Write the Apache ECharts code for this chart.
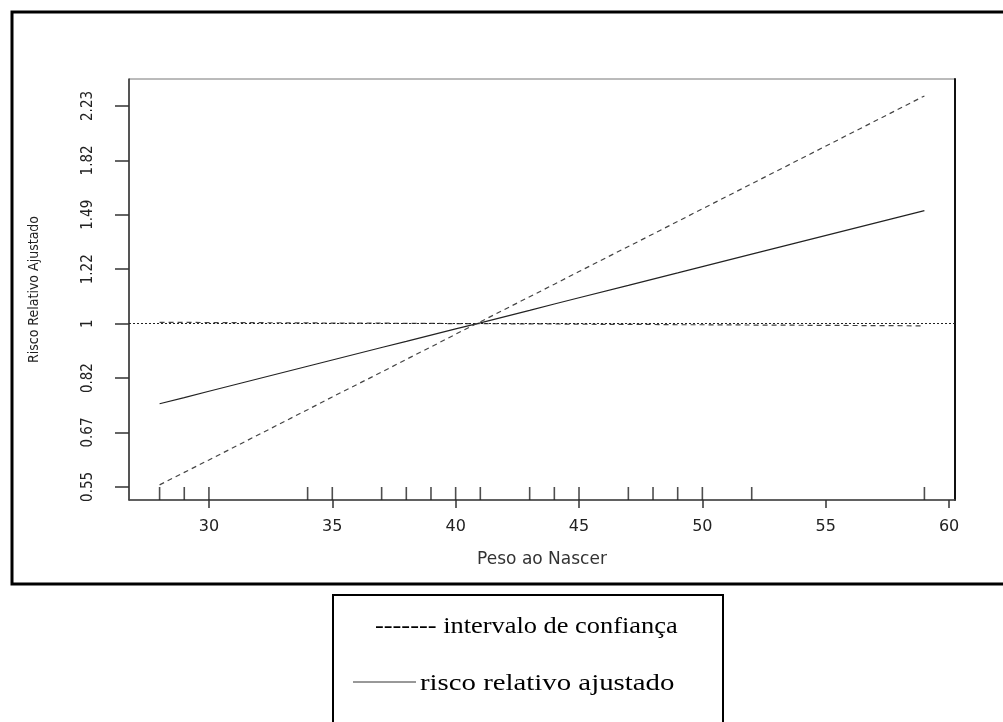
<!DOCTYPE html>
<html>
<head>
<meta charset="utf-8">
<title>Risco Relativo Ajustado</title>
<script src="https://cdn.jsdelivr.net/npm/echarts@6/dist/echarts.min.js"></script>
<style>
  html, body { margin: 0; padding: 0; background: #fff; }
  #chart { width: 1003px; height: 722px; }
</style>
</head>
<body>
<div id="chart"></div>
<script>
// eixo x: peso ao nascer (valores observados, tambem usados no rug)
var pesoX = [28, 29, 30, 34, 35, 37, 38, 39, 40, 41, 43, 44, 45, 47, 48, 49, 50, 52, 59];
var rugX = [28, 29, 30, 34, 35, 37, 38, 39, 40, 41, 43, 44, 45, 47, 48, 49, 50, 52, 59];

// risco relativo ajustado (linha continua)
var riscoAjustado = [0.745, 0.762, 0.780, 0.855, 0.875, 0.916, 0.937, 0.959, 0.981, 1.003,
    1.050, 1.075, 1.100, 1.151, 1.178, 1.205, 1.233, 1.291, 1.515];

// intervalo de confianca (duas linhas tracejadas)
var icInclinado = [0.553, 0.579, 0.606, 0.729, 0.764, 0.837, 0.877, 0.918, 0.962, 1.007,
    1.104, 1.156, 1.211, 1.328, 1.390, 1.456, 1.525, 1.672, 2.309];
var icPlano = [1.005, 1.005, 1.004, 1.003, 1.002, 1.002, 1.001, 1.001, 1.000, 1.000,
    0.999, 0.999, 0.998, 0.997, 0.997, 0.996, 0.996, 0.995, 0.992];

// ticks
var xTicks = [30, 35, 40, 45, 50, 55, 60];
var yTickLabels = ['0.55', '0.67', '0.82', '1', '1.22', '1.49', '1.82', '2.23'];
var yTickLogs = [-0.6, -0.4, -0.2, 0, 0.2, 0.4, 0.6, 0.8];

var X_MIN = 26.76, X_MAX = 60.24;
var Y_MIN = -0.648, Y_MAX = 0.899;

var NARROW = '"Liberation Sans Narrow", "DejaVu Sans Condensed", "Liberation Sans", sans-serif';

function toLogPairs(vals) {
    return pesoX.map(function (x, i) { return [x, Math.log(vals[i])]; });
}

var chart = echarts.init(document.getElementById('chart'), null, { renderer: 'canvas' });

var option = {
    animation: false,
    backgroundColor: '#fff',
    grid: {
        left: 129, top: 79, right: 48, bottom: 222,
        show: true, borderColor: '#777', borderWidth: 1, backgroundColor: 'transparent'
    },
    xAxis: {
        type: 'value',
        min: X_MIN, max: X_MAX,
        name: 'Peso ao Nascer',
        nameLocation: 'middle',
        nameGap: 51,
        nameTextStyle: { fontFamily: 'DejaVu Sans', fontSize: 17, color: '#333' },
        axisLine: { show: true, onZero: false, lineStyle: { color: '#444', width: 1.5 } },
        axisTick: { show: true, inside: false, length: 8, customValues: xTicks, lineStyle: { color: '#333', width: 1.5 } },
        axisLabel: {
            customValues: xTicks, margin: 19,
            fontFamily: 'DejaVu Sans', fontSize: 16, color: '#222'
        },
        splitLine: { show: false }
    },
    yAxis: [{
        type: 'value',
        min: Y_MIN, max: Y_MAX,
        name: 'Risco Relativo Ajustado',
        nameLocation: 'middle',
        nameRotate: 90,
        nameGap: 88,
        nameTextStyle: { fontFamily: NARROW, fontSize: 14, color: '#222' },
        axisLine: { show: true, onZero: false, lineStyle: { color: '#333', width: 1.5 } },
        axisTick: { show: true, inside: false, length: 14, customValues: yTickLogs, lineStyle: { color: '#333', width: 1.5 } },
        axisLabel: {
            customValues: yTickLogs,
            rotate: 90,
            margin: 33,
            fontFamily: NARROW, fontSize: 15, color: '#222',
            formatter: function (v) {
                var i = yTickLogs.findIndex(function (t) { return Math.abs(t - v) < 1e-6; });
                return i >= 0 ? yTickLabels[i] : '';
            }
        },
        splitLine: { show: false }
    }, {
        type: 'value',
        position: 'right',
        min: Y_MIN, max: Y_MAX,
        axisLine: { show: true, lineStyle: { color: '#111', width: 2 } },
        axisTick: { show: false },
        axisLabel: { show: false },
        splitLine: { show: false }
    }],
    series: [{
        name: 'risco relativo ajustado',
        type: 'line',
        data: toLogPairs(riscoAjustado),
        showSymbol: false,
        lineStyle: { color: '#222', width: 1.2, type: 'solid' },
        markLine: {
            silent: true,
            symbol: ['none', 'none'],
            label: { show: false },
            lineStyle: { color: '#222', width: 1, type: [2, 2] },
            data: [{ yAxis: 0 }]
        }
    }, {
        name: 'intervalo de confiança',
        type: 'line',
        data: toLogPairs(icInclinado),
        showSymbol: false,
        lineStyle: { color: '#444', width: 1.2, type: [5, 4] }
    }, {
        name: 'intervalo de confiança (limite)',
        type: 'line',
        data: toLogPairs(icPlano),
        showSymbol: false,
        lineStyle: { color: '#444', width: 1.2, type: [5, 4] }
    }, {
        name: 'rug',
        type: 'scatter',
        clip: false,
        symbol: 'rect',
        symbolSize: [1.6, 13],
        symbolOffset: [0, '-50%'],
        itemStyle: { color: '#222' },
        data: rugX.map(function (x) { return [x, Y_MIN]; })
    }],
    graphic: [{
        type: 'rect',
        shape: { x: 12, y: 12, width: 1000, height: 572 },
        style: { fill: 'none', stroke: '#000', lineWidth: 3 },
        silent: true
    }, {
        type: 'rect',
        shape: { x: 333, y: 595, width: 390, height: 150 },
        style: { fill: 'none', stroke: '#000', lineWidth: 2 },
        silent: true
    }, {
        type: 'text',
        x: 375, y: 627,
        scaleX: 1.1,
        style: {
            text: '------- intervalo de confiança',
            font: '24px "Liberation Serif"',
            fill: '#000',
            align: 'left', verticalAlign: 'middle'
        },
        silent: true
    }, {
        type: 'line',
        shape: { x1: 353, y1: 682, x2: 416, y2: 682 },
        style: { stroke: '#333', lineWidth: 1 },
        silent: true
    }, {
        type: 'text',
        x: 420, y: 684,
        scaleX: 1.2,
        style: {
            text: 'risco relativo ajustado',
            font: '24px "Liberation Serif"',
            fill: '#000',
            align: 'left', verticalAlign: 'middle'
        },
        silent: true
    }]
};

chart.setOption(option);
</script>
</body>
</html>
